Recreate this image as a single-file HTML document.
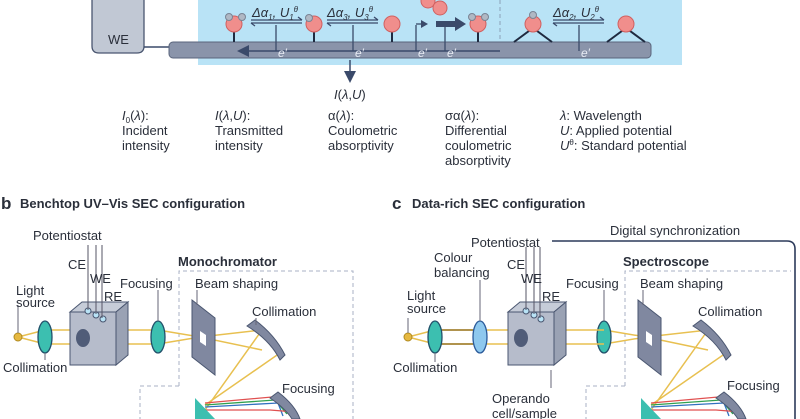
<!DOCTYPE html>
<html><head><meta charset="utf-8"><style>
html,body{margin:0;padding:0;background:#fff}
svg{display:block}
text{font-family:"Liberation Sans",sans-serif;fill:#2a2f3a}
.l{font-size:13px}
.it{font-style:italic}
.b{font-weight:bold;font-size:13px}
.w{fill:#e8ecf4;font-style:italic;font-size:12px}
</style></head><body>
<svg width="800" height="419" viewBox="0 0 800 419" xmlns="http://www.w3.org/2000/svg">
<defs>
<marker id="ah" markerWidth="8" markerHeight="8" refX="6" refY="4" orient="auto"><path d="M0,0 L8,4 L0,8 z" fill="#3a4a6a"/></marker>
</defs>
<rect x="198" y="0" width="484" height="65" fill="#b9e3f6"/>
<line x1="500" y1="0" x2="500" y2="42" stroke="#8aa0b8" stroke-dasharray="4,3"/>
<path d="M92,0 V46 Q92,53 99,53 H137 Q144,53 144,46 V0" fill="#c1c8d4" stroke="#4a5670" stroke-width="1.3"/>
<text x="108" y="44" class="l">WE</text>
<line x1="144" y1="47" x2="170" y2="47" stroke="#3a4a6a" stroke-width="1.5"/>
<rect x="169" y="42" width="482" height="16" rx="4" fill="#8a94aa" stroke="#5a657c"/>
<line x1="500" y1="51" x2="240" y2="51" stroke="#3a4a6a" stroke-width="1.5" marker-end="url(#ah)"/>
<g stroke="#3a4a6a" stroke-width="1.3" fill="none">
<line x1="276" y1="25" x2="276" y2="51"/><line x1="353" y1="25" x2="353" y2="51"/>
<line x1="416" y1="25" x2="416" y2="51"/><line x1="445" y1="25" x2="445" y2="51"/>
<line x1="579" y1="25" x2="579" y2="51"/>
<line x1="416" y1="24" x2="426" y2="24"/>
<path d="M251,20 H302 M302,20 l-4,-3 M251,23 H302 M251,23 l4,3"/>
<path d="M327,20 H378 M378,20 l-4,-3 M327,23 H378 M327,23 l4,3"/>
<path d="M553,20 H604 M604,20 l-4,-3 M553,23 H604 M553,23 l4,3"/>
</g>
<path d="M421,20 L428,24 L421,28 z" fill="#3a4a6a"/>
<path d="M436,21 H455 V17 L466,24 L455,31 V27 H436 z" fill="#3a4a6a"/>
<g stroke="#1f2a40" stroke-width="2">
<line x1="234" y1="30" x2="234" y2="42"/><line x1="314" y1="30" x2="314" y2="42"/>
<line x1="392" y1="30" x2="392" y2="42"/><line x1="478" y1="30" x2="478" y2="42"/>
<path d="M514,42 L533,28 L552,42" fill="none"/><path d="M607,42 L626,28 L645,42" fill="none"/>
</g>
<g fill="#f08e8c" stroke="#d06060">
<circle cx="234" cy="24" r="8"/><circle cx="314" cy="24" r="8"/><circle cx="392" cy="24" r="8"/>
<circle cx="478" cy="24" r="8"/><circle cx="533" cy="24" r="8"/><circle cx="626" cy="24" r="8"/>
<circle cx="428" cy="1" r="7"/><circle cx="440" cy="8" r="7"/>
</g>
<g fill="#b0b8c4" stroke="#7a8494">
<circle cx="229" cy="17" r="3.5"/><circle cx="242" cy="17" r="3.5"/><circle cx="309" cy="18" r="3.5"/>
<circle cx="472" cy="17" r="3.5"/><circle cx="485" cy="17" r="3.5"/><circle cx="533" cy="15" r="3.5"/>
</g>
<text x="252" y="17" class="l it">Δα<tspan font-size="8" dy="3">1</tspan><tspan dy="-3">, U</tspan><tspan font-size="8" dy="3">1</tspan><tspan font-size="8" dy="-8">θ</tspan></text>
<text x="327" y="17" class="l it">Δα<tspan font-size="8" dy="3">3</tspan><tspan dy="-3">, U</tspan><tspan font-size="8" dy="3">3</tspan><tspan font-size="8" dy="-8">θ</tspan></text>
<text x="553" y="17" class="l it">Δα<tspan font-size="8" dy="3">2</tspan><tspan dy="-3">, U</tspan><tspan font-size="8" dy="3">2</tspan><tspan font-size="8" dy="-8">θ</tspan></text>
<text x="278" y="57" class="w">e′</text><text x="355" y="57" class="w">e′</text><text x="418" y="57" class="w">e′</text><text x="447" y="57" class="w">e′</text><text x="581" y="57" class="w">e′</text>
<line x1="350" y1="60" x2="350" y2="80" stroke="#3a4a6a" stroke-width="1.5" marker-end="url(#ah)"/>
<text x="334" y="99" class="l"><tspan class="it">I</tspan>(<tspan class="it">λ</tspan>,<tspan class="it">U</tspan>)</text>
<g class="l">
<text x="122" y="120"><tspan font-style="italic">I</tspan><tspan font-size="8" dy="3">0</tspan><tspan dy="-3">(</tspan><tspan font-style="italic">λ</tspan>):</text>
<text x="122" y="135">Incident</text><text x="122" y="150">intensity</text>
<text x="215" y="120"><tspan font-style="italic">I</tspan>(<tspan font-style="italic">λ</tspan>,<tspan font-style="italic">U</tspan>):</text>
<text x="215" y="135">Transmitted</text><text x="215" y="150">intensity</text>
<text x="328" y="120">α(<tspan font-style="italic">λ</tspan>):</text>
<text x="328" y="135">Coulometric</text><text x="328" y="150">absorptivity</text>
<text x="445" y="120">σα(<tspan font-style="italic">λ</tspan>):</text>
<text x="445" y="135">Differential</text><text x="445" y="150">coulometric</text><text x="445" y="165">absorptivity</text>
<text x="560" y="120"><tspan font-style="italic">λ</tspan>: Wavelength</text>
<text x="560" y="135"><tspan font-style="italic">U</tspan>: Applied potential</text>
<text x="560" y="150"><tspan font-style="italic">U</tspan><tspan font-size="8" dy="-5">θ</tspan><tspan dy="5">: Standard potential</tspan></text>
</g>
<text x="1" y="209" font-weight="bold" font-size="17">b</text>
<text x="20" y="208" class="b">Benchtop UV–Vis SEC configuration</text>
<text x="392" y="209" font-weight="bold" font-size="17">c</text>
<text x="412" y="208" class="b">Data-rich SEC configuration</text>

<g>
<path d="M179,386 V271 H353 V419 M179,386 H140 V419" fill="none" stroke="#aab2c4" stroke-dasharray="4,3"/>
<g stroke="#e8c050" stroke-width="1.5" fill="none">
<path d="M18,337 L45,330 H158 L200,337 L262,330 L280,353 L205,405"/>
<path d="M18,337 L45,344 H158 L200,337 L262,350"/>
<path d="M262,330 L205,410"/>
</g>
<g stroke-width="1.3" fill="none">
<path d="M205,403 L272,397 L290,412" stroke="#e05050"/>
<path d="M205,405 L275,400 L287,414" stroke="#30a050"/>
<path d="M205,407 L278,403 L283,416" stroke="#3070c0"/>
<path d="M205,410 L270,410 L295,412" stroke="#e05050"/>
</g>
<circle cx="18" cy="337" r="4" fill="#e6b840" stroke="#b08a20"/>
<line x1="18" y1="333" x2="18" y2="305" stroke="#667"/>
<ellipse cx="45" cy="337" rx="7" ry="16" fill="#3cbfb0" stroke="#22506a" stroke-width="1.3"/>
<line x1="45" y1="353" x2="45" y2="360" stroke="#667"/>
<path d="M70,312 L82,302 H128 L116,312 z" fill="#c6ccd8" stroke="#4a5670"/>
<path d="M116,312 L128,302 V355 L116,365 z" fill="#9aa2b4" stroke="#4a5670"/>
<rect x="70" y="312" width="46" height="53" fill="#b6bccb" stroke="#4a5670"/>
<ellipse cx="83" cy="338" rx="7" ry="9" fill="#505c78"/>
<circle cx="88" cy="311" r="3" fill="#b9e3f6" stroke="#4a5670"/><circle cx="96" cy="315" r="3" fill="#b9e3f6" stroke="#4a5670"/><circle cx="103" cy="319" r="3" fill="#b9e3f6" stroke="#4a5670"/>
<g stroke="#556" stroke-width="1"><line x1="88" y1="245" x2="88" y2="310"/><line x1="96" y1="245" x2="96" y2="314"/><line x1="102" y1="245" x2="102" y2="318"/></g>
<ellipse cx="158" cy="337" rx="7" ry="16" fill="#3cbfb0" stroke="#22506a" stroke-width="1.3"/>
<line x1="158" y1="290" x2="158" y2="321" stroke="#667"/>
<path d="M192,300 L215,318 V375 L192,357 z" fill="#8088a0" stroke="#4a5670"/>
<path d="M200,331 L206,335 V346 L200,342 z" fill="#fff"/>
<line x1="197" y1="290" x2="197" y2="305" stroke="#667"/>
<path d="M247,326 L255,320 Q275,335 285,355 L280,360 Q270,340 247,326 z" fill="#8088a0" stroke="#4a5670"/>
<line x1="256" y1="318" x2="256" y2="325" stroke="#667"/>
<path d="M270,398 L278,392 Q295,405 300,419 L292,419 Q285,408 270,398 z" fill="#8088a0" stroke="#4a5670"/>
<path d="M195,398 L215,419 H195 z" fill="#3cbfb0"/>
</g>
<g class="l">
<text x="33" y="240">Potentiostat</text>
<text x="68" y="269">CE</text><text x="90" y="283">WE</text><text x="104" y="301">RE</text>
<text x="16" y="295">Light</text><text x="16" y="307">source</text>
<text x="3" y="372">Collimation</text>
<text x="120" y="288">Focusing</text>
<text x="178" y="266" font-weight="bold">Monochromator</text>
<text x="195" y="288">Beam shaping</text>
<text x="252" y="316">Collimation</text>
<text x="282" y="393">Focusing</text>
</g>

<path d="M552,241 H787 Q795,241 795,249 V419" fill="none" stroke="#2c3a5a" stroke-width="1.6"/>
<g transform="translate(446,0)">
<path d="M179,386 V271 H345" fill="none" stroke="#aab2c4" stroke-dasharray="4,3"/>
<path d="M179,386 H140 V419" fill="none" stroke="#aab2c4" stroke-dasharray="4,3"/>
<g stroke="#e8c050" stroke-width="1.5" fill="none">
<path d="M200,337 L262,330 L280,353 L205,405"/>
<path d="M158,330 L200,337 L262,350"/><path d="M158,344 L200,337"/>
<path d="M262,330 L205,410"/>
</g>
<g stroke-width="1.3" fill="none">
<path d="M205,403 L272,397 L290,412" stroke="#e05050"/>
<path d="M205,405 L275,400 L287,414" stroke="#30a050"/>
<path d="M205,407 L278,403 L283,416" stroke="#3070c0"/>
<path d="M205,410 L270,410 L295,412" stroke="#e05050"/>
</g>
<ellipse cx="158" cy="337" rx="7" ry="16" fill="#3cbfb0" stroke="#22506a" stroke-width="1.3"/>
<line x1="158" y1="290" x2="158" y2="321" stroke="#667"/>
<path d="M192,300 L215,318 V375 L192,357 z" fill="#8088a0" stroke="#4a5670"/>
<path d="M200,331 L206,335 V346 L200,342 z" fill="#fff"/>
<line x1="197" y1="290" x2="197" y2="305" stroke="#667"/>
<path d="M247,326 L255,320 Q275,335 285,355 L280,360 Q270,340 247,326 z" fill="#8088a0" stroke="#4a5670"/>
<path d="M270,398 L278,392 Q295,405 300,419 L292,419 Q285,408 270,398 z" fill="#8088a0" stroke="#4a5670"/>
<path d="M195,398 L215,419 H195 z" fill="#3cbfb0"/>
</g>
<g stroke="#e8c050" stroke-width="1.5" fill="none">
<path d="M408,337 L435,330 H604 M408,337 L435,344 H604"/>
</g>
<path d="M435,330 H480 M435,344 H480" stroke="#9a7a30" stroke-width="1.5"/>
<circle cx="408" cy="337" r="4" fill="#e6b840" stroke="#b08a20"/>
<line x1="408" y1="333" x2="408" y2="318" stroke="#667"/>
<ellipse cx="435" cy="337" rx="7" ry="16" fill="#3cbfb0" stroke="#22506a" stroke-width="1.3"/>
<line x1="435" y1="353" x2="435" y2="362" stroke="#667"/>
<ellipse cx="480" cy="337" rx="7" ry="16" fill="#8ec8ee" stroke="#2a5a9a" stroke-width="1.3"/>
<line x1="480" y1="280" x2="480" y2="321" stroke="#667"/>
<g transform="translate(438,0)">
<path d="M70,312 L82,302 H128 L116,312 z" fill="#c6ccd8" stroke="#4a5670"/>
<path d="M116,312 L128,302 V355 L116,365 z" fill="#9aa2b4" stroke="#4a5670"/>
<rect x="70" y="312" width="46" height="53" fill="#b6bccb" stroke="#4a5670"/>
<ellipse cx="83" cy="338" rx="7" ry="9" fill="#505c78"/>
<circle cx="88" cy="311" r="3" fill="#b9e3f6" stroke="#4a5670"/><circle cx="96" cy="315" r="3" fill="#b9e3f6" stroke="#4a5670"/><circle cx="103" cy="319" r="3" fill="#b9e3f6" stroke="#4a5670"/>
<g stroke="#556" stroke-width="1"><line x1="88" y1="247" x2="88" y2="310"/><line x1="96" y1="247" x2="96" y2="314"/><line x1="102" y1="247" x2="102" y2="318"/></g>
<line x1="113" y1="370" x2="113" y2="388" stroke="#667"/>
</g>
<g class="l">
<text x="610" y="235">Digital synchronization</text>
<text x="471" y="247">Potentiostat</text>
<text x="434" y="262">Colour</text><text x="434" y="277">balancing</text>
<text x="507" y="269">CE</text><text x="521" y="283">WE</text><text x="542" y="301">RE</text>
<text x="407" y="300">Light</text><text x="407" y="313">source</text>
<text x="393" y="372">Collimation</text>
<text x="566" y="288">Focusing</text>
<text x="623" y="266" font-weight="bold">Spectroscope</text>
<text x="640" y="288">Beam shaping</text>
<text x="698" y="316">Collimation</text>
<text x="727" y="390">Focusing</text>
<text x="492" y="403">Operando</text><text x="492" y="418">cell/sample</text>
</g>
</svg>
</body></html>
